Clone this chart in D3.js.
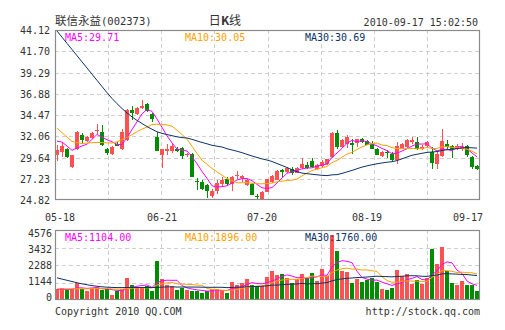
<!DOCTYPE html>
<html><head><meta charset="utf-8">
<script src="https://cdn.jsdelivr.net/npm/d3@7/dist/d3.min.js"></script>
<style>body{margin:0;background:#fff}svg{display:block}</style>
</head><body><svg id="c" width="505" height="330"></svg>
<script>
// ---- data ----
const opens  = [29.97,30.27,30.57,28.53,30.57,32.24,31.48,31.86,32.66,32.54,30.61,30.08,31.21,30.57,31.59,35.00,34.62,35.30,35.76,34.62,31.97,29.97,30.42,30.34,30.65,30.72,29.89,30.08,26.96,26.86,26.49,25.31,25.84,26.60,27.17,26.67,27.58,27.36,26.49,26.67,25.31,24.97,25.73,26.86,27.13,28.19,28.00,28.38,27.92,28.45,28.76,29.25,28.30,28.68,28.94,29.70,32.46,30.84,31.21,31.33,31.33,31.78,31.48,31.21,30.65,29.82,30.27,30.08,29.32,30.65,30.84,31.40,31.40,30.57,30.91,30.27,28.94,29.82,31.21,30.91,30.65,30.57,30.95,29.70,28.68];
const highs  = [31.03,31.40,30.72,29.97,32.61,32.39,32.05,32.54,33.41,33.30,30.72,30.91,31.40,32.84,35.11,35.49,35.38,36.13,35.87,34.73,32.54,30.65,31.21,31.21,30.84,30.84,30.16,30.16,27.32,27.05,26.67,26.11,27.05,27.43,27.43,27.51,28.08,27.70,27.17,26.79,25.54,25.80,27.20,27.70,28.19,28.30,28.53,28.57,28.53,29.59,29.13,29.59,28.91,29.32,29.51,32.54,32.73,31.78,32.16,31.78,31.78,31.86,31.59,31.48,30.72,30.34,30.46,30.27,31.40,31.29,31.78,31.97,31.97,31.03,31.48,30.84,30.27,32.92,31.67,31.10,31.21,31.33,31.03,29.82,28.83];
const lows   = [29.21,29.66,29.63,28.41,30.50,31.33,31.40,31.78,32.35,30.91,29.89,29.89,30.91,30.46,31.52,33.86,34.43,35.19,34.81,33.67,30.34,28.45,29.89,30.19,30.27,29.44,29.70,27.39,25.92,25.92,25.05,25.05,25.54,26.30,26.49,25.84,27.17,26.86,26.41,25.35,24.97,24.82,25.70,26.79,27.05,27.43,27.92,27.70,27.85,28.30,28.38,28.45,28.23,28.57,28.76,29.63,30.65,30.72,30.72,30.08,30.84,31.33,31.03,30.57,29.89,29.70,29.63,29.25,28.94,30.57,30.72,31.21,30.46,30.46,30.72,28.30,28.30,29.70,30.57,29.63,30.46,30.34,29.70,28.30,28.19];
const closes = [30.50,30.95,29.70,29.89,32.54,31.67,31.97,32.43,32.72,31.03,30.16,30.84,30.95,32.54,35.00,34.73,35.30,35.49,34.92,33.98,30.38,30.57,30.65,30.95,30.42,29.82,30.08,27.43,26.90,26.11,25.88,25.84,26.79,27.05,26.60,27.43,27.66,27.55,27.05,25.43,25.27,25.73,27.17,27.55,28.08,28.00,28.45,27.92,28.45,28.94,28.49,28.57,28.83,29.13,29.44,32.46,30.84,31.59,31.97,31.10,31.71,31.40,31.10,30.65,29.97,30.27,30.16,29.32,30.95,31.21,31.59,31.63,30.57,30.84,31.40,29.06,30.08,31.48,30.84,30.57,30.95,30.84,29.89,28.57,28.30];
const volumes = [719,784,632,719,1111,719,610,784,850,675,719,349,567,719,1438,1002,784,784,937,610,2528,1395,1002,893,632,784,675,610,600,458,567,719,719,632,458,1177,1002,1111,1373,1002,893,893,1504,1918,1656,1700,1438,1111,1373,1700,1438,1765,1264,2026,1547,4227,3181,1874,1809,1111,1395,1177,1329,1438,1177,719,632,784,1983,1547,1700,1068,1329,1046,1438,3334,2353,3465,1874,1111,959,1264,1002,959,610];
// sessions before the first visible day (only feed the moving-average lines)
const priorCloses  = [51.95,50.70,50.89,53.54,52.67,52.97,53.43,53.72,52.03,51.16,50.34,48.95,49.04,50.00,48.23,47.30,45.99,45.42,42.98,39.08,35.95,34.70,34.89,34.04,32.67,31.45,31.95,32.34,31.26];
const priorVolumes = [3214,3032,3119,3511,2819,2410,2434,2200,1725,1469,799,867,760,1300,950,820,800,900,700,2300,800,650,700,1050,750,650,700,620,690];

const priceTicks  = ["24.82","27.23","29.64","32.06","34.47","36.88","39.29","41.70","44.12"];
const volumeTicks = ["0","1144","2288","3432","4576"];
const dateLabels  = ["05-18","06-21","07-20","08-19","09-17"];
const dateIndex   = [0,21,41,62,84];
const maPeriods   = [5,10,30];
const priceMALabels  = ["MA5:29.71","MA10:30.05","MA30:30.69"];
const volumeMALabels = ["MA5:1104.00","MA10:1896.00","MA30:1760.00"];
const titleName = "联信永益";
const titleCode = "(002373)";
const chartKind = ["日","K","线"];
const stamp = "2010-09-17 15:02:50";
const footLeft = "Copyright 2010 QQ.COM";
const footRight = "http://stock.qq.com";

// ---- styles ----
const RED = "#ff5151", GREEN = "#008c00";
const MA_COLORS = ["#ff00ff","#ffa200","#0c3466"];
const MONO = "'DejaVu Sans Mono', monospace";
const CJK = "'Noto Sans CJK SC', sans-serif";

const svg = d3.select("#c");
const L = 55, R = 480, PT = 30, PB = 200, VT = 230, VB = 300;
const n = closes.length;
const x = d3.scaleLinear().domain([0, n]).range([L, R]);
const slot = x(1) - x(0);
const bw = slot - 1;
const xc = i => x(i) + bw / 2;

const pMin = +priceTicks[0], pMax = +priceTicks[priceTicks.length - 1];
const y = d3.scaleLinear().domain([pMin, pMax]).range([PB, PT]);
const vMax = +volumeTicks[volumeTicks.length - 1];
const yv = d3.scaleLinear().domain([0, vMax]).range([VB, VT]);
const yvLabel = d3.scaleLinear().domain([0, vMax]).range([VB + 0.5, VT + 7]);

function movingAvg(vals, prior, p) {
  const all = prior.concat(vals);
  return vals.map((_, i) => d3.mean(all.slice(prior.length + i - p + 1, prior.length + i + 1)));
}

const defs = svg.append("defs");
defs.append("clipPath").attr("id", "cp").append("rect").attr("x", L).attr("y", PT).attr("width", R - L).attr("height", PB - PT);
defs.append("clipPath").attr("id", "cv").append("rect").attr("x", L).attr("y", VT).attr("width", R - L).attr("height", VB - VT);

// grids
const vGrid = d3.range(1, 8).map(i => L + (R - L) * i / 8);
function grid(top, bottom, ys) {
  const g = svg.append("g").attr("stroke", "#cfcfcf").attr("stroke-dasharray", "4,3").attr("shape-rendering", "crispEdges");
  ys.forEach(v => g.append("line").attr("x1", L).attr("x2", R).attr("y1", Math.round(v) + 0.5).attr("y2", Math.round(v) + 0.5));
  vGrid.forEach(v => g.append("line").attr("x1", Math.round(v) + 0.5).attr("x2", Math.round(v) + 0.5).attr("y1", top).attr("y2", bottom));
}
grid(PT, PB, priceTicks.slice(1, -1).map(t => y(+t)));
grid(VT, VB, volumeTicks.slice(1, -1).map(t => yv(+t)));

// candles
const cg = svg.append("g").attr("clip-path", "url(#cp)").attr("shape-rendering", "crispEdges");
closes.forEach((c, i) => {
  const o = opens[i], up = c >= o, col = up ? RED : GREEN;
  cg.append("line").attr("x1", Math.round(xc(i)) + 0.5).attr("x2", Math.round(xc(i)) + 0.5)
    .attr("y1", y(highs[i])).attr("y2", y(lows[i])).attr("stroke", col);
  const top = y(Math.max(o, c)), h = Math.max(1, Math.abs(y(o) - y(c)));
  cg.append("rect").attr("x", x(i)).attr("width", bw).attr("y", top).attr("height", h).attr("fill", col);
});

// price MAs
const priceMA = maPeriods.map(p => movingAvg(closes, priorCloses, p));
const line = (ys) => d3.line().x((d, i) => xc(i)).y(d => ys(d));
const mg = svg.append("g").attr("clip-path", "url(#cp)").attr("fill", "none").attr("stroke-width", 1);
priceMA.forEach((arr, k) => mg.append("path").attr("d", line(y)(arr)).attr("stroke", MA_COLORS[k]));

// volume bars
const vg = svg.append("g").attr("shape-rendering", "crispEdges");
volumes.forEach((v, i) => {
  vg.append("rect").attr("x", x(i)).attr("width", bw).attr("y", yv(v)).attr("height", VB - yv(v))
    .attr("fill", closes[i] >= opens[i] ? RED : GREEN);
});
const volMA = maPeriods.map(p => movingAvg(volumes, priorVolumes, p));
const vmg = svg.append("g").attr("clip-path", "url(#cv)").attr("fill", "none").attr("stroke-width", 1);
volMA.forEach((arr, k) => vmg.append("path").attr("d", line(yv)(arr)).attr("stroke", MA_COLORS[k]));

// frames
[[PT, PB], [VT, VB]].forEach(([t, b]) => {
  svg.append("rect").attr("x", L + 0.5).attr("y", t + 0.5).attr("width", R - L - 1).attr("height", b - t - 1)
    .attr("fill", "none").attr("stroke", "#8a8a8a").attr("stroke-width", 1.2);
});

// axis labels
const txt = (xx, yy, s, opts = {}) => svg.append("text").attr("x", xx).attr("y", yy).text(s)
  .attr("font-family", opts.font || MONO).attr("font-size", opts.size || 10)
  .attr("fill", opts.fill || "#333").attr("text-anchor", opts.anchor || "start");
priceTicks.forEach(t => txt(50, y(+t) + 4, t, {anchor: "end"}));
volumeTicks.forEach(t => txt(52, yvLabel(+t), t, {anchor: "end"}));
dateLabels.forEach((d, j) => {
  const w = 30;
  let cx = xc(dateIndex[j]);
  cx = Math.max(45 + w / 2, Math.min(483 - w / 2, cx));
  txt(cx, 221, d, {anchor: "middle"});
});

// MA legends
const legendX = [65, 185, 305];
priceMALabels.forEach((s, k) => txt(legendX[k], 40.5, s, {fill: MA_COLORS[k]}));
volumeMALabels.forEach((s, k) => txt(legendX[k], 240.5, s, {fill: MA_COLORS[k]}));

// header
const t1 = svg.append("text").attr("x", 55).attr("y", 25).attr("fill", "#333");
t1.append("tspan").attr("font-family", CJK).attr("font-size", 11.5).text(titleName);
t1.append("tspan").attr("font-family", MONO).attr("font-size", 10.5).text(titleCode);
const t2 = svg.append("text").attr("x", 225).attr("y", 25).attr("text-anchor", "middle").attr("fill", "#333")
  .attr("font-family", CJK).attr("font-size", 12);
chartKind.forEach((s, i) => t2.append("tspan").attr("font-weight", i === 1 ? "bold" : "normal").text(s));
txt(478, 25.5, stamp, {anchor: "end"});

// footer
txt(55, 315, footLeft);
txt(480, 315, footRight, {anchor: "end"});
</script></body></html>
